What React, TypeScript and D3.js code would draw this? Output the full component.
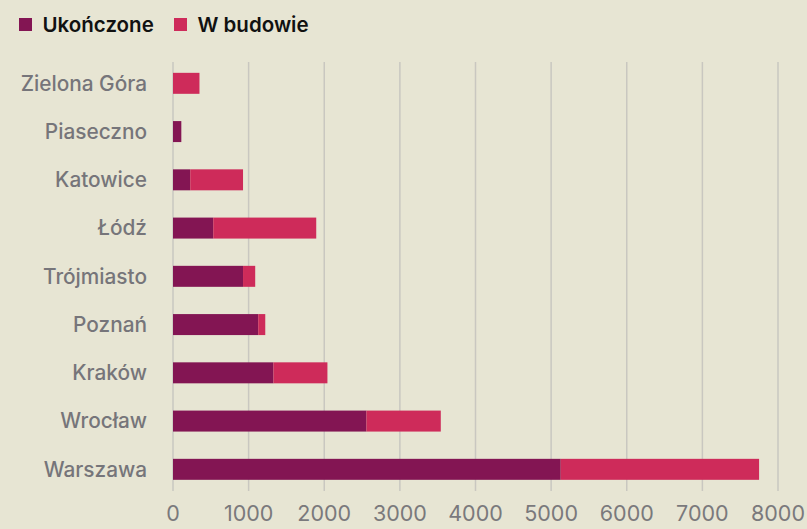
import React from "react";
import * as d3 from "d3";

const categories = ["Zielona Góra", "Piaseczno", "Katowice", "Łódź", "Trójmiasto", "Poznań", "Kraków", "Wrocław", "Warszawa"];
const completed = [0, 110, 228, 532, 926, 1127, 1328, 2558, 5127];
const underConstruction = [350, 0, 698, 1362, 161, 93, 714, 983, 2623];
const seriesNames = ["Ukończone", "W budowie"];
const xTicks = [0, 1000, 2000, 3000, 4000, 5000, 6000, 7000, 8000];

const W = 807;
const H = 529;
const COLORS = ["#831553", "#CE2B5A"];
const BG = "#E7E5D3";
const FONT = "Inter, 'Noto Sans', sans-serif";

export default function App() {
  const x = d3.scaleLinear().domain([0, 8000]).range([173, 778]);
  const y = d3.scaleBand<string>().domain(categories).range([59.2, 493.45]).paddingInner(0.565).paddingOuter(0.2825);
  const rows = categories.map((c, i) => ({ c, a: completed[i], b: underConstruction[i] }));
  const stack = d3.stack<any>().keys(["a", "b"])(rows as any);

  return (
    <div style={{ position: "absolute", left: 0, top: 0, width: W, height: H, background: BG }}>
      <svg width={W} height={H} style={{ display: "block" }}>
        <rect x={0} y={0} width={W} height={H} fill={BG} />
        {xTicks.map((t) => (
          <line key={t} x1={x(t)} x2={x(t)} y1={62} y2={491} stroke="#c9c7c0" strokeWidth={1.5} />
        ))}
        {stack.map((s, si) =>
          s.map((d, i) => {
            const w = x(d[1]) - x(d[0]);
            if (w <= 0) return null;
            return (
              <rect key={si + "-" + i} x={x(d[0])} y={y(categories[i])} width={w} height={y.bandwidth()} fill={COLORS[si]} />
            );
          })
        )}
        {categories.map((c) => (
          <text key={c} x={147} y={(y(c) as number) + y.bandwidth() / 2} dy="0.35em" textAnchor="end" fontFamily={FONT} fontSize={20.8} fontWeight={500} fill="#76757a">
            {c}
          </text>
        ))}
        {xTicks.map((t) => (
          <text key={t} x={x(t)} y={513} dy="0.35em" textAnchor="middle" fontFamily={FONT} fontSize={21.5} fill="#7a797c">
            {t}
          </text>
        ))}
        {seriesNames.map((n, i) => {
          const lx = [19, 174][i];
          return (
            <g key={n}>
              <rect x={lx} y={18} width={13} height={13} fill={COLORS[i]} />
              <text x={lx + 23.5} y={24.5} dy="0.35em" fontFamily={FONT} fontSize={20.5} fontWeight={600} fill="#111">
                {n}
              </text>
            </g>
          );
        })}
      </svg>
    </div>
  );
}
